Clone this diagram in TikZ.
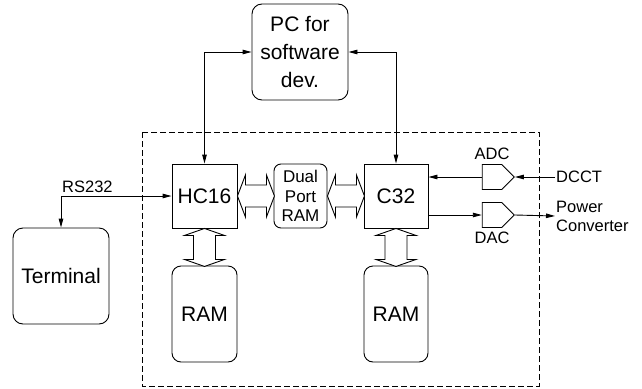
\documentclass[tikz,border=0pt]{standalone}
\usepackage{fontspec}
\setmainfont{Liberation Sans}
\usepackage{tikz}
\usetikzlibrary{arrows.meta,positioning,shapes.symbols}
\newcommand{\blkfont}{\fontsize{21}{28}\selectfont}
\newcommand{\dprfont}{\fontsize{17}{19.5}\selectfont}
\newcommand{\lblfont}{\fontsize{16.5}{19}\selectfont}
\tikzset{
  blockbox/.style={draw,line width=0.9pt,minimum width=65pt,minimum height=64pt,inner sep=0pt,align=center,font=\blkfont},
  roundbox/.style={blockbox,rounded corners=10pt},
  convbox/.style={draw,line width=0.9pt,shape=signal,signal to=east,signal pointer angle=90,minimum width=32pt,minimum height=25pt,inner sep=0pt},
  arrow/.style={-{Triangle[length=9pt,width=4.5pt]},line width=0.9pt},
  twoway/.style={{Triangle[length=9pt,width=4.5pt]}-{Triangle[length=9pt,width=4.5pt]},line width=0.9pt},
  bus/.style={draw,line width=0.9pt,fill=white,line join=miter},
  lbl/.style={font=\lblfont,inner sep=1pt}
}

\begin{document}
\begin{tikzpicture}[x=1pt,y=-1pt]
  \useasboundingbox (0,0) rectangle (642,388);

  % board outline
  \draw[line width=0.9pt,dash pattern=on 6pt off 3pt] (142,132) rectangle (539,386);

  \node[roundbox,minimum width=96pt,minimum height=96pt] (pc) at (300,52) {PC for\\software\\dev.};
  \node[roundbox,minimum width=96pt,minimum height=96pt] (term) at (61,276) {Terminal};

  \node[blockbox] (hc) at (204.5,196) {HC16};
  \node[blockbox,rounded corners=7pt,minimum width=53pt,font=\dprfont] (dpr) at (300.5,196) {Dual\\Port\\RAM};
  \node[blockbox,minimum width=64pt] (c32) at (396,196) {C32};
  \node[roundbox,rounded corners=9pt,minimum height=96pt] (ram1) at (204.5,314) {RAM};
  \node[roundbox,rounded corners=9pt,minimum width=64pt,minimum height=96pt] (ram2) at (396,314) {RAM};

  \node[convbox] (adc) at (492,177) {};
  \node[convbox] (dac) at (492,215) {};
  \node[lbl,above=3pt of adc] {ADC};
  \node[lbl,below=3pt of dac] {DAC};
  \node[lbl,anchor=west] (dcct) at (555,177) {DCCT};
  \node[lbl,anchor=west,align=left] (pwr) at (555,216) {Power\\Converter};

  % links to PC and terminal
  \draw[twoway] (pc.west) -| (hc.north);
  \draw[twoway] (pc.east) -| (c32.north);
  \coordinate (rsbend) at (term.north |- hc.west);
  \draw[twoway] (hc.west) -- (rsbend) -- (term.north);
  \node[lbl,above right=2.5pt and 0pt of rsbend] {RS232};

  % analog side
  \draw[arrow] (dcct.west) -- (adc.east);
  \draw[arrow] (adc.west) -- (adc.west -| c32.east);
  \draw[arrow] (dac.west -| c32.east) -- (dac.west);
  \draw[arrow] (dac.east) -- (pwr.west);

  % buses
  \draw[bus] (hc.east) -- ++(8,-21) -- ++(0,10) -- ++(21,0) -- ++(0,-10) -- ++(8,21)
    -- ++(-8,21) -- ++(0,-10) -- ++(-21,0) -- ++(0,10) -- cycle;
  \draw[bus] (dpr.east) -- ++(8,-21) -- ++(0,10) -- ++(21,0) -- ++(0,-10) -- ++(8,21)
    -- ++(-8,21) -- ++(0,-10) -- ++(-21,0) -- ++(0,10) -- cycle;
  \draw[bus] (hc.south) -- ++(-20,7) -- ++(9,0) -- ++(0,24) -- ++(-9,0) -- ++(20,7)
    -- ++(20,-7) -- ++(-9,0) -- ++(0,-24) -- ++(9,0) -- cycle;
  \draw[bus] (c32.south) -- ++(-20,7) -- ++(9,0) -- ++(0,24) -- ++(-9,0) -- ++(20,7)
    -- ++(20,-7) -- ++(-9,0) -- ++(0,-24) -- ++(9,0) -- cycle;
\end{tikzpicture}
\end{document}
